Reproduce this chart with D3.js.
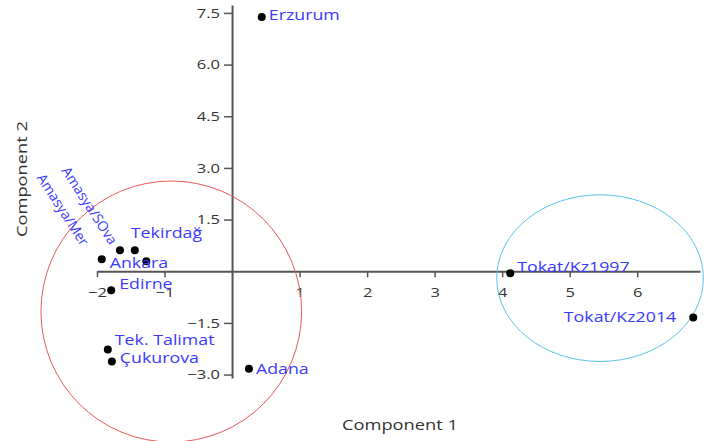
<!DOCTYPE html>
<html>
<head>
<meta charset="utf-8">
<script src="https://cdn.jsdelivr.net/npm/d3@7"></script>
<style>
  body { margin: 0; background: #fff; }
  text { font-family: "Open Sans", sans-serif; }
</style>
</head>
<body>
<svg class="chart"></svg>
<script>
// Sample names and their scores on the first two components
var names = ["Erzurum", "Ankara", "Amasya/SOva", "Tekirdağ", "Amasya/Mer", "Edirne",
    "Tek. Talimat", "Çukurova", "Adana", "Tokat/Kz1997", "Tokat/Kz2014"];
var comp1 = [0.44, -1.93, -1.66, -1.44, -1.27, -1.79, -1.84, -1.78, 0.25, 4.12, 6.83];
var comp2 = [7.38, 0.35, 0.61, 0.61, 0.29, -0.55, -2.27, -2.62, -2.83, -0.06, -1.34];

// Tick values
var xTicks = [-2, -1, 1, 2, 3, 4, 5, 6];
var yTicks = [-3, -1.5, 1.5, 3, 4.5, 6, 7.5];

// Group outlines (centre x, centre y, radius x, radius y in component units)
var groupCx = [-0.9, 5.45];
var groupCy = [-1.17, -0.2];
var groupRx = [1.93, 1.53];
var groupRy = [3.79, 2.42];
var groupColor = ["#e8585a", "#5cc3ea"];

const width = 707, height = 441;
const stretch = 1.27; // the original text is rendered wide

var svg = d3.select('.chart')
    .attr('width', width)
    .attr('height', height);

var x = d3.scaleLinear().domain([-2, 6.93]).range([97, 700]);
var y = d3.scaleLinear().domain([-3.1, 7.73]).range([378, 5]);

// x axis through zero
var xAxis = svg.append('g')
    .attr('transform', `translate(0, ${y(0)})`)
    .call(d3.axisBottom(x).tickValues(xTicks).tickSize(6).tickPadding(11)
        .tickFormat(d3.format('d')).tickSizeOuter(0));

// y axis through zero
var yAxis = svg.append('g')
    .attr('transform', `translate(${x(0)}, 0)`)
    .call(d3.axisLeft(y).tickValues(yTicks).tickSize(8).tickPadding(1.5)
        .tickFormat(d3.format('.1f')).tickSizeOuter(0));

[xAxis, yAxis].forEach(function(g) {
    g.select('.domain').attr('stroke', '#555').attr('stroke-width', 2);
    g.selectAll('.tick line').attr('stroke', '#555').attr('stroke-width', 1.5);
    g.selectAll('.tick text')
        .attr('fill', '#333')
        .attr('transform', `scale(${stretch}, 1)`)
        .style('font-size', '13px')
        .style('font-family', '"Open Sans", sans-serif');
});

// group ellipses
svg.selectAll('.group')
    .data(groupCx).enter()
    .append('ellipse')
    .attr('class', 'group')
    .attr('cx', function(d, i) { return x(d); })
    .attr('cy', function(d, i) { return y(groupCy[i]); })
    .attr('rx', function(d, i) { return x(groupRx[i]) - x(0); })
    .attr('ry', function(d, i) { return y(0) - y(groupRy[i]); })
    .attr('fill', 'none')
    .attr('stroke', function(d, i) { return groupColor[i]; })
    .attr('stroke-width', 1);

// points
svg.selectAll('.pt')
    .data(names).enter()
    .append('circle')
    .attr('class', 'pt')
    .attr('cx', function(d, i) { return x(comp1[i]); })
    .attr('cy', function(d, i) { return y(comp2[i]); })
    .attr('r', 4)
    .attr('fill', '#000');

// label nudges so crowded names don't pile up: dx, dy, rotation, anchor
var nudge = {
    "Erzurum": [7, -2, 0, 'start'],
    "Ankara": [8, 4, 0, 'start'],
    "Amasya/SOva": [-6, -7, 57, 'end'],
    "Tekirdağ": [-4, -17, 0, 'start'],
    "Amasya/Mer": [-61, -17, 57, 'end'],
    "Edirne": [8, -6, 0, 'start'],
    "Tek. Talimat": [7, -9, 0, 'start'],
    "Çukurova": [8, -3, 0, 'start'],
    "Tokat/Kz1997": [7, -6, 0, 'start'],
    "Tokat/Kz2014": [-17, 0, 0, 'end']
};

svg.selectAll('.lbl')
    .data(names).enter()
    .append('text')
    .attr('class', 'lbl')
    .attr('transform', function(d, i) {
        var n = nudge[d] || [7, 0, 0, 'start'];
        var t = `translate(${x(comp1[i]) + n[0]}, ${y(comp2[i]) + n[1]})`;
        return n[2] ? t + ` rotate(${n[2]})` : t + ` scale(${stretch}, 1)`;
    })
    .attr('dy', '0.35em')
    .attr('text-anchor', function(d) { return (nudge[d] || [0, 0, 0, 'start'])[3]; })
    .attr('fill', '#3a3aff')
    .style('font-size', '14px')
    .text(function(d) { return d; });

// axis titles
svg.append('text')
    .attr('transform', `translate(400, 430) scale(1.22, 1)`)
    .attr('text-anchor', 'middle')
    .attr('fill', '#333')
    .style('font-size', '15px')
    .text('Component 1');

svg.append('text')
    .attr('transform', 'translate(27, 179) rotate(-90) scale(1.22, 1)')
    .attr('text-anchor', 'middle')
    .attr('fill', '#333')
    .style('font-size', '15px')
    .text('Component 2');
</script>
</body>
</html>
